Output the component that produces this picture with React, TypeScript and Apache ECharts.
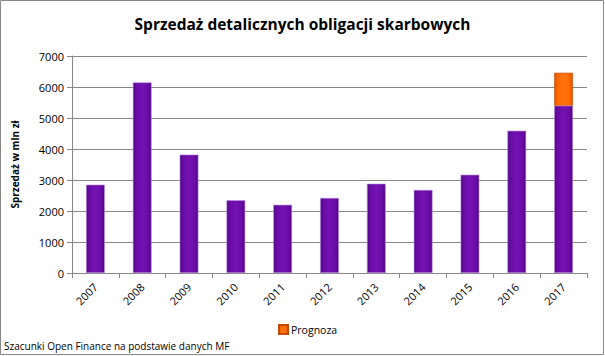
import React, { useEffect, useRef } from "react";
import * as echarts from "echarts";

const years = ["2007", "2008", "2009", "2010", "2011", "2012", "2013", "2014", "2015", "2016", "2017"];
const sales = [2850, 6150, 3820, 2350, 2200, 2420, 2880, 2680, 3170, 4590, 5400];
const forecast = [null, null, null, null, null, null, null, null, null, null, 1060];
const yTicks = { min: 0, max: 7000, interval: 1000 };

const FONT = "'Open Sans', 'Noto Sans', sans-serif";

export default function App() {
  const ref = useRef<HTMLDivElement>(null);
  useEffect(() => {
    if (!ref.current) return;
    const chart = echarts.init(ref.current, undefined, { renderer: "svg" });
    const purple = new echarts.graphic.LinearGradient(0, 0, 1, 0, [
      { offset: 0, color: "#4e0682" },
      { offset: 0.18, color: "#6a0ca6" },
      { offset: 0.5, color: "#7412b2" },
      { offset: 0.82, color: "#6a0ca6" },
      { offset: 1, color: "#4e0682" },
    ]);
    const orange = new echarts.graphic.LinearGradient(0, 0, 1, 0, [
      { offset: 0, color: "#e05500" },
      { offset: 0.2, color: "#ff6a00" },
      { offset: 0.5, color: "#ff7410" },
      { offset: 0.8, color: "#ff6a00" },
      { offset: 1, color: "#e05500" },
    ]);
    chart.setOption({
      animation: false,
      backgroundColor: "#ffffff",
      textStyle: { fontFamily: FONT },
      title: {
        text: "Sprzedaż detalicznych obligacji skarbowych",
        left: "center",
        top: 11,
        textStyle: { fontFamily: FONT, fontSize: 15.5, fontWeight: "bold", color: "#000" },
      },
      legend: {
        data: [{ name: "Prognoza", icon: "rect" }],
        left: 273,
        top: 319,
        itemWidth: 9,
        itemHeight: 9,
        itemGap: 3,
        textStyle: { fontFamily: FONT, fontSize: 10.5, color: "#000", padding: [0, 0, 0, -2] },
      },
      grid: { left: 72, right: 18, top: 56, bottom: 83, containLabel: false },
      xAxis: {
        type: "category",
        data: years,
        axisLine: { lineStyle: { color: "#888", width: 1 } },
        axisTick: { show: true, length: 5, alignWithLabel: false, lineStyle: { color: "#888" } },
        axisLabel: { rotate: 45, fontSize: 11, color: "#000", fontFamily: FONT, margin: 12 },
      },
      yAxis: {
        type: "value",
        min: yTicks.min,
        max: yTicks.max,
        interval: yTicks.interval,
        name: "Sprzedaż w mln zł",
        nameLocation: "middle",
        nameGap: 52,
        nameTextStyle: { fontFamily: FONT, fontSize: 10, fontWeight: "bold", color: "#000" },
        axisLine: { show: true, lineStyle: { color: "#888", width: 1 } },
        axisTick: { show: true, length: 5, lineStyle: { color: "#888" } },
        axisLabel: { fontSize: 11, color: "#000", fontFamily: FONT, margin: 8, formatter: (v: number) => String(v) },
        splitLine: { lineStyle: { color: "#888", width: 1 } },
      },
      series: [
        {
          name: "Sprzedaż",
          type: "bar",
          stack: "a",
          data: sales,
          barWidth: "40%",
          itemStyle: { color: purple, borderColor: "#b98de0", borderWidth: 0.6 },
        },
        {
          name: "Prognoza",
          type: "bar",
          stack: "a",
          data: forecast,
          barWidth: "40%",
          itemStyle: { color: orange, borderColor: "#c04a00", borderWidth: 0.6 },
        },
      ],
      graphic: [
        {
          type: "rect",
          shape: { x: 0.5, y: 0.5, width: 603, height: 354 },
          style: { fill: "none", stroke: "#888", lineWidth: 1 },
          silent: true,
        },
        {
          type: "text",
          left: 4,
          top: 341,
          style: {
            text: "Szacunki Open Finance na podstawie danych MF",
            fontFamily: FONT,
            fontSize: 10,
            fill: "#000",
          },
        },
      ],
    });
    return () => chart.dispose();
  }, []);
  return <div ref={ref} style={{ position: "absolute", left: 0, top: 0, width: 605, height: 356 }} />;
}
